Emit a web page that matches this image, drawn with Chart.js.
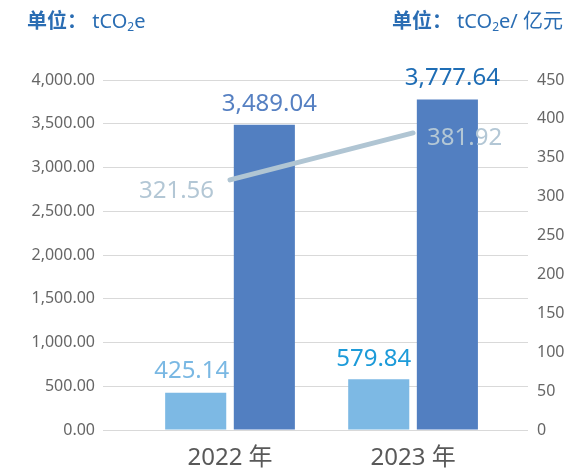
<!DOCTYPE html>
<html>
<head>
<meta charset="utf-8">
<script src="https://cdn.jsdelivr.net/npm/chart.js@4"></script>
<style>
  html, body { margin: 0; padding: 0; background: #ffffff; }
  #wrap { position: relative; width: 569px; height: 471px; overflow: hidden; }
  canvas { position: absolute; left: 0; top: 0; }
  .unit { position: absolute; top: 9px; font-family: "Noto Sans", "Noto Sans CJK SC", sans-serif; font-size: 20px; line-height: 22px; color: #2a6db3; white-space: nowrap; }
  .unit b { font-weight: 700; font-family: "Noto Sans CJK SC", sans-serif; }
  .unit sub { font-size: 12px; vertical-align: -3px; line-height: 0; }
</style>
</head>
<body>
<div id="wrap">
  <canvas id="c" width="569" height="471"></canvas>
  <div class="unit" style="left:27px;"><b>单位：</b> tCO<sub>2</sub>e</div>
  <div class="unit" style="right:6px;"><b>单位：</b> tCO<sub>2</sub>e/ 亿元</div>
</div>
<script>
// ---- data ----
const categories = ['2022 年', '2023 年'];
const lightBarValues = [425.14, 579.84];
const darkBarValues = [3489.04, 3777.64];
const lineValues = [321.56, 381.92];
const leftAxisMax = 4000;
const leftAxisStep = 500;
const rightAxisMax = 450;
const rightAxisStep = 50;

const FONT = '"Noto Sans", "Noto Sans CJK SC", sans-serif';
const fmt2 = v => v.toLocaleString('en-US', { minimumFractionDigits: 2, maximumFractionDigits: 2 });

const toPoints = arr => arr.map((v, i) => ({ x: i, y: v }));

const valueLabelPlugin = {
  id: 'valueLabels',
  afterDatasetsDraw(chart) {
    const ctx = chart.ctx;
    chart.data.datasets.forEach((ds, di) => {
      const o = ds.valueLabel;
      if (!o) return;
      const meta = chart.getDatasetMeta(di);
      meta.data.forEach((el, i) => {
        const text = fmt2(ds.data[i].y);
        ctx.save();
        ctx.font = '24px ' + FONT;
        ctx.fillStyle = o.colors[i];
        ctx.textAlign = o.align[i];
        ctx.textBaseline = 'middle';
        ctx.fillText(text, el.x + o.dx[i], el.y + o.dy[i]);
        ctx.restore();
      });
    });
  }
};

new Chart(document.getElementById('c'), {
  data: {
    datasets: [
      {
        type: 'line',
        data: toPoints(lineValues),
        yAxisID: 'y1',
        borderColor: '#b0c5d3',
        borderWidth: 5,
        borderCapStyle: 'round',
        pointRadius: 0,
        tension: 0,
        order: 0,
        valueLabel: { colors: ['#b3c7d5', '#b3c7d5'], align: ['right', 'left'], dx: [-16, 14], dy: [11, 5] }
      },
      {
        type: 'bar',
        data: toPoints(lightBarValues),
        yAxisID: 'y',
        backgroundColor: '#7db9e4',
        categoryPercentage: 0.75,
        barPercentage: 0.89,
        order: 1,
        valueLabel: { colors: ['#7ab8e3', '#1d9bd9'], align: ['center', 'center'], dx: [-4, -5], dy: [-22, -20] }
      },
      {
        type: 'bar',
        data: toPoints(darkBarValues),
        yAxisID: 'y',
        backgroundColor: '#527fc1',
        categoryPercentage: 0.75,
        barPercentage: 0.89,
        order: 1,
        valueLabel: { colors: ['#5680c2', '#1e6db5'], align: ['center', 'center'], dx: [5, 5], dy: [-21, -21] }
      }
    ]
  },
  options: {
    responsive: false,
    animation: false,
    layout: { padding: { top: 80, bottom: 0, left: 0, right: 0 } },
    plugins: { legend: { display: false }, tooltip: { enabled: false } },
    scales: {
      x: {
        type: 'linear',
        offset: false,
        min: -0.694,
        max: 1.628,
        afterBuildTicks: s => { s.ticks = categories.map((c, i) => ({ value: i })); },
        afterFit: s => { s.height = 41; },
        grid: { display: false, drawTicks: false, offset: false },
        border: { display: false },
        ticks: {
          callback: v => categories[v],
          autoSkip: false,
          maxRotation: 0,
          padding: 14,
          color: '#595959',
          font: { family: FONT, size: 24 }
        }
      },
      y: {
        position: 'left',
        min: 0,
        max: leftAxisMax,
        afterFit: s => { s.width = 103; },
        grid: { color: '#d9d9d9', lineWidth: 1, drawTicks: false },
        border: { display: false },
        ticks: {
          stepSize: leftAxisStep,
          callback: v => fmt2(v),
          padding: 8,
          color: '#666666',
          font: { family: FONT, size: 16 }
        }
      },
      y1: {
        position: 'right',
        min: 0,
        max: rightAxisMax,
        afterFit: s => { s.width = 41; },
        grid: { display: false, drawTicks: false },
        border: { display: false },
        ticks: {
          stepSize: rightAxisStep,
          padding: 9,
          color: '#666666',
          font: { family: FONT, size: 16 }
        }
      }
    }
  },
  plugins: [valueLabelPlugin]
});
</script>
</body>
</html>
